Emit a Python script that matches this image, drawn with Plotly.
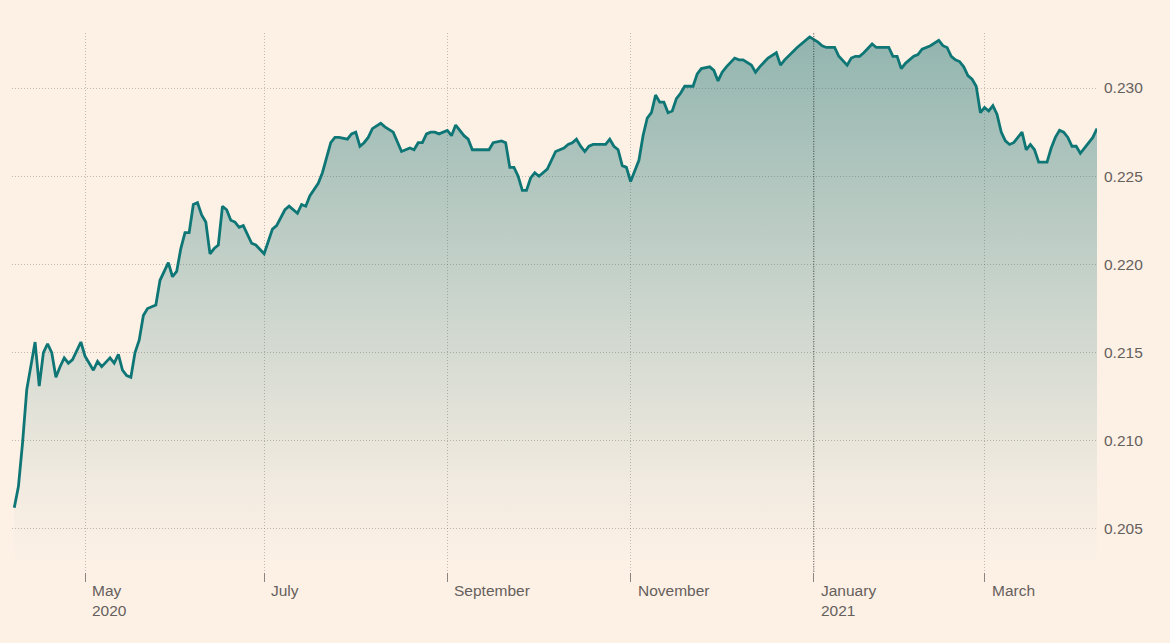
import plotly.graph_objects as go

# Trading-day observations (weekends are removed from the time axis)
dates = [
    "2020-04-08", "2020-04-09", "2020-04-10", "2020-04-13", "2020-04-15", "2020-04-16", "2020-04-17", "2020-04-20",
    "2020-04-21", "2020-04-22", "2020-04-23", "2020-04-24", "2020-04-27", "2020-04-28", "2020-04-30", "2020-05-01",
    "2020-05-05", "2020-05-06", "2020-05-07", "2020-05-11", "2020-05-12", "2020-05-13", "2020-05-14", "2020-05-15",
    "2020-05-18", "2020-05-19", "2020-05-20", "2020-05-21", "2020-05-22", "2020-05-26", "2020-05-27", "2020-05-28",
    "2020-05-29", "2020-06-01", "2020-06-02", "2020-06-03", "2020-06-04", "2020-06-05", "2020-06-08", "2020-06-09",
    "2020-06-10", "2020-06-11", "2020-06-12", "2020-06-15", "2020-06-16", "2020-06-17", "2020-06-18", "2020-06-19",
    "2020-06-22", "2020-06-23", "2020-06-24", "2020-06-26", "2020-06-29", "2020-07-01", "2020-07-03", "2020-07-06",
    "2020-07-08", "2020-07-09", "2020-07-10", "2020-07-13", "2020-07-14", "2020-07-15", "2020-07-16", "2020-07-20",
    "2020-07-21", "2020-07-22", "2020-07-23", "2020-07-24", "2020-07-27", "2020-07-29", "2020-07-30", "2020-07-31",
    "2020-08-03", "2020-08-04", "2020-08-05", "2020-08-06", "2020-08-10", "2020-08-11", "2020-08-13", "2020-08-17",
    "2020-08-19", "2020-08-20", "2020-08-21", "2020-08-24", "2020-08-25", "2020-08-26", "2020-08-27", "2020-08-28",
    "2020-09-01", "2020-09-02", "2020-09-03", "2020-09-07", "2020-09-08", "2020-09-09", "2020-09-15", "2020-09-16",
    "2020-09-18", "2020-09-21", "2020-09-22", "2020-09-23", "2020-09-24", "2020-09-25", "2020-09-28", "2020-09-29",
    "2020-09-30", "2020-10-01", "2020-10-02", "2020-10-05", "2020-10-07", "2020-10-09", "2020-10-12", "2020-10-13",
    "2020-10-14", "2020-10-15", "2020-10-16", "2020-10-19", "2020-10-20", "2020-10-23", "2020-10-26", "2020-10-27",
    "2020-10-28", "2020-10-29", "2020-10-30", "2020-11-02", "2020-11-04", "2020-11-05", "2020-11-06", "2020-11-09",
    "2020-11-10", "2020-11-11", "2020-11-12", "2020-11-13", "2020-11-16", "2020-11-17", "2020-11-18", "2020-11-19",
    "2020-11-23", "2020-11-24", "2020-11-25", "2020-11-27", "2020-11-30", "2020-12-01", "2020-12-02", "2020-12-03",
    "2020-12-07", "2020-12-08", "2020-12-09", "2020-12-11", "2020-12-14", "2020-12-15", "2020-12-17", "2020-12-21",
    "2020-12-22", "2020-12-23", "2020-12-28", "2020-12-31", "2021-01-04", "2021-01-05", "2021-01-06", "2021-01-07",
    "2021-01-08", "2021-01-11", "2021-01-13", "2021-01-14", "2021-01-15", "2021-01-18", "2021-01-19", "2021-01-21",
    "2021-01-22", "2021-01-25", "2021-01-26", "2021-01-27", "2021-01-28", "2021-01-29", "2021-02-01", "2021-02-02",
    "2021-02-04", "2021-02-05", "2021-02-08", "2021-02-09", "2021-02-10", "2021-02-12", "2021-02-15", "2021-02-16",
    "2021-02-17", "2021-02-18", "2021-02-19", "2021-02-22", "2021-02-23", "2021-02-24", "2021-02-25", "2021-02-26",
    "2021-03-01", "2021-03-02", "2021-03-03", "2021-03-04", "2021-03-05", "2021-03-08", "2021-03-09", "2021-03-10",
    "2021-03-12", "2021-03-15", "2021-03-16", "2021-03-17", "2021-03-18", "2021-03-22", "2021-03-23", "2021-03-24",
    "2021-03-25", "2021-03-26", "2021-03-29", "2021-03-30", "2021-03-31", "2021-04-01", "2021-04-02", "2021-04-05",
    "2021-04-06", "2021-04-07",
]

values = [
    0.2062, 0.2074, 0.2099, 0.2129, 0.2156, 0.2131, 0.2150, 0.2155,
    0.2150, 0.2136, 0.2142, 0.2147, 0.2144, 0.2146, 0.2156, 0.2148,
    0.2140, 0.2145, 0.2142, 0.2147, 0.2144, 0.2149, 0.2140, 0.2137,
    0.2136, 0.2150, 0.2157, 0.2171, 0.2175, 0.2177, 0.2191, 0.2196,
    0.2201, 0.2193, 0.2196, 0.2209, 0.2218, 0.2218, 0.2234, 0.2235,
    0.2228, 0.2224, 0.2206, 0.2209, 0.2211, 0.2233, 0.2231, 0.2225,
    0.2224, 0.2221, 0.2222, 0.2212, 0.2211, 0.2206, 0.2220, 0.2222,
    0.2231, 0.2233, 0.2231, 0.2229, 0.2234, 0.2233, 0.2239, 0.2246,
    0.2252, 0.2260, 0.2269, 0.2272, 0.2272, 0.2271, 0.2274, 0.2275,
    0.2267, 0.2269, 0.2272, 0.2277, 0.2280, 0.2278, 0.2275, 0.2264,
    0.2266, 0.2265, 0.2269, 0.2269, 0.2274, 0.2275, 0.2275, 0.2274,
    0.2276, 0.2273, 0.2279, 0.2273, 0.2271, 0.2265, 0.2265, 0.2269,
    0.2270, 0.2269, 0.2255, 0.2255, 0.2250, 0.2242, 0.2242, 0.2249,
    0.2252, 0.2250, 0.2252, 0.2254, 0.2264, 0.2266, 0.2268, 0.2269,
    0.2271, 0.2267, 0.2264, 0.2267, 0.2268, 0.2268, 0.2271, 0.2267,
    0.2265, 0.2256, 0.2255, 0.2247, 0.2259, 0.2273, 0.2283, 0.2286,
    0.2296, 0.2292, 0.2292, 0.2286, 0.2287, 0.2294, 0.2297, 0.2301,
    0.2301, 0.2308, 0.2311, 0.2312, 0.2310, 0.2304, 0.2309, 0.2312,
    0.2317, 0.2316, 0.2316, 0.2313, 0.2309, 0.2312, 0.2317, 0.2320,
    0.2313, 0.2316, 0.2323, 0.2329, 0.2326, 0.2324, 0.2323, 0.2323,
    0.2323, 0.2318, 0.2313, 0.2317, 0.2318, 0.2318, 0.2320, 0.2325,
    0.2323, 0.2323, 0.2323, 0.2323, 0.2318, 0.2318, 0.2311, 0.2314,
    0.2318, 0.2319, 0.2322, 0.2323, 0.2324, 0.2327, 0.2324, 0.2323,
    0.2318, 0.2316, 0.2315, 0.2312, 0.2307, 0.2305, 0.2301, 0.2286,
    0.2289, 0.2287, 0.2290, 0.2285, 0.2275, 0.2270, 0.2268, 0.2269,
    0.2275, 0.2265, 0.2268, 0.2265, 0.2258, 0.2258, 0.2266, 0.2272,
    0.2276, 0.2275, 0.2272, 0.2267, 0.2267, 0.2263, 0.2266, 0.2269,
    0.2272, 0.2277,
]

y_ticks = [0.205, 0.210, 0.215, 0.220, 0.225, 0.230]
y_tick_labels = ["0.205", "0.210", "0.215", "0.220", "0.225", "0.230"]
x_ticks = ["2020-05-01", "2020-07-01", "2020-09-01", "2020-11-02", "2021-01-01", "2021-03-01"]
x_tick_labels = ["May<br>2020", "July", "September", "November", "January<br>2021", "March"]

BG = "#fdf1e6"
LINE = "#0f7676"
TEXT = "#66605c"
GRID = "rgba(110,100,90,0.40)"
FONT = "Liberation Sans, Arial, sans-serif"

y_min, y_max = 0.20256, 0.23312

fig = go.Figure()
fig.add_trace(go.Scatter(
    x=dates, y=values, mode="lines",
    line=dict(color=LINE, width=2.8),
    fill="tozeroy",
    fillgradient=dict(
        type="vertical",
        colorscale=[[0, "rgba(20,110,110,0.0)"], [0.15, "rgba(20,110,110,0.05)"], [1, "rgba(20,110,110,0.46)"]],
        start=0.2030, stop=0.2331,
    ),
    hoverinfo="skip",
    showlegend=False,
))

annotations = []
for xv, lab in zip(x_ticks, x_tick_labels):
    annotations.append(dict(
        x=xv, y=0, xref="x", yref="paper", text=lab, showarrow=False,
        xanchor="left", yanchor="top", align="left", xshift=5, yshift=-8,
        font=dict(family=FONT, size=15.5, color=TEXT),
    ))

fig.update_layout(
    width=1170, height=643,
    margin=dict(l=4, r=81, t=25, b=79),
    paper_bgcolor=BG, plot_bgcolor=BG,
    annotations=annotations,
    shapes=[dict(
        type="line", xref="x", yref="paper", x0="2021-01-01", x1="2021-01-01", y0=0, y1=1,
        line=dict(color="rgba(50,50,50,0.75)", width=1, dash="1px,1.5px"), layer="above",
    )],
    xaxis=dict(
        type="date",
        range=["2020-04-07 11:00", "2021-04-07"],
        rangebreaks=[dict(bounds=["sat", "mon"])],
        tickvals=x_ticks, showticklabels=False,
        ticks="outside", ticklen=9, tickwidth=1, tickcolor="#8a8580",
        showgrid=True, gridcolor=GRID, griddash="1px,2px", gridwidth=1,
        showline=False, zeroline=False,
    ),
    yaxis=dict(
        range=[y_min, y_max], side="right",
        tickvals=y_ticks, ticktext=y_tick_labels,
        ticks="", ticklabelstandoff=6,
        tickfont=dict(family=FONT, size=15.5, color=TEXT),
        showgrid=True, gridcolor=GRID, griddash="1px,2px", gridwidth=1,
        showline=False, zeroline=False,
    ),
)

fig.write_html(
    "out.html",
    post_script="document.body.style.background='#fdf1e6';"
                "document.documentElement.style.background='#fdf1e6';",
)
